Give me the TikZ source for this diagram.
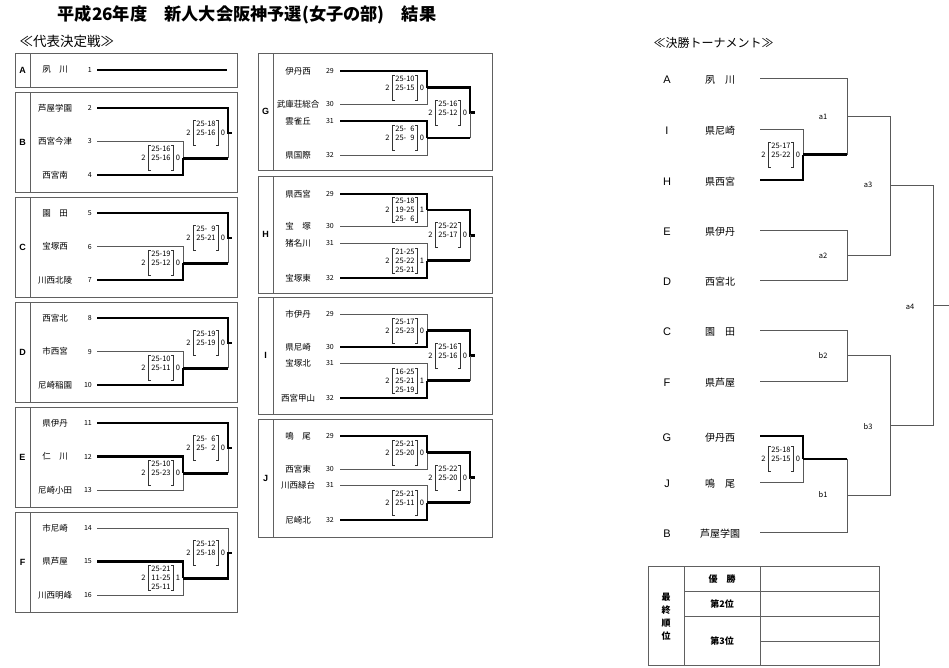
\documentclass[tikz,border=0pt]{standalone}
\usepackage{fontspec}
\setmainfont{Noto Sans CJK JP}
\newfontfamily\latin{Liberation Sans}
\usetikzlibrary{calc}

% score box left of a joint: sets won, sets lost, three set scores
\newcommand\sets[6]{%
  \node[pts] (#1w) at ($(#1)+(-39.5,0)$) {#2};
  \node[pts] (#1l) at ($(#1)+(-5,0)$) {#3};
  \draw[brk] ($(#1)+(-32.5,-12.5)$) -- ++(-2.5,0) -- ++(0,25) -- ++(2.5,0);
  \draw[brk] ($(#1)+(-12,-12.5)$) -- ++(2.5,0) -- ++(0,25) -- ++(-2.5,0);
  \node[pts] (#1a) at ($(#1)+(-22,-9)$) {#4};
  \node[pts] (#1b) at ($(#1)+(-22,0)$) {#5};
  \node[pts] (#1c) at ($(#1)+(-22,9)$) {#6};
}

\begin{document}
\begin{tikzpicture}[x=1pt,y=-1pt,
  win/.style={line width=2.6pt},
  lose/.style={line width=0.8pt, gray!70!black},
  brk/.style={line width=0.6pt, gray!40!black},
  frame/.style={line width=0.8pt, draw=gray!75!black},
  team/.style={font=\fontsize{8.5}{9}\selectfont, inner sep=0pt},
  num/.style={font=\fontsize{7}{8}\selectfont, anchor=east, inner sep=0pt},
  pts/.style={font=\fontsize{7.5}{8}\selectfont, inner sep=0pt},
  grp/.style={font=\latin\bfseries\fontsize{9}{10}\selectfont},
  seed/.style={font=\latin\fontsize{11}{12}\selectfont},
  fteam/.style={font=\fontsize{10}{11}\selectfont},
  rnd/.style={font=\fontsize{7.5}{8}\selectfont},
  rank/.style={font=\bfseries\fontsize{9}{13}\selectfont, align=center}]
\path[use as bounding box, fill=white] (0,0) rectangle (949,667);

\node[font=\bfseries\fontsize{17.2}{19}\selectfont] (title) at (247,15) {平成26年度　新人大会阪神予選(女子の部)　結果};
\node[font=\fontsize{13.5}{15}\selectfont, anchor=west] (sub1) at (16,41) {≪代表決定戦≫};
\node[font=\fontsize{12}{14}\selectfont, anchor=west] (sub2) at (650,43) {≪決勝トーナメント≫};

% group boxes
\foreach \g/\l/\d/\r/\t/\b in {A/15/30/237/53/87, B/15/30/237/92/192, C/15/30/237/197/297,
  D/15/30/237/302/402, E/15/30/237/407/507, F/15/30/237/512/612,
  G/258/273/492/53/170, H/258/273/492/176/293, I/258/273/492/297/414, J/258/273/492/419/537}{
  \draw[frame] (\l,\t) rectangle (\r,\b) (\d,\t) -- (\d,\b);
  \node[grp] (lb\g) at ({(\l+\d)/2},{(\t+\b)/2}) {\g};
}

% teams
\foreach \n/\t/\y in {1/夙　川/70, 2/芦屋学園/108, 3/西宮今津/141.5, 4/西宮南/175,
  5/園　田/213, 6/宝塚西/246.5, 7/川西北陵/280,
  8/西宮北/318, 9/市西宮/351.5, 10/尼崎稲園/385,
  11/県伊丹/423, 12/仁　川/456.5, 13/尼崎小田/490,
  14/市尼崎/528, 15/県芦屋/561.5, 16/川西明峰/595}{
  \node[team] (m\n) at (55,\y) {\t};
  \node[num] (k\n) at (92,\y) {\n};
  \coordinate (t\n) at (97,\y);
}
\foreach \g/\n/\t/\y in {g/29/伊丹西/71, g/30/武庫荘総合/104, g/31/雲雀丘/121, g/32/県国際/155,
  h/29/県西宮/194, h/30/宝　塚/226, h/31/猪名川/243, h/32/宝塚東/278,
  i/29/市伊丹/314, i/30/県尼崎/347, i/31/宝塚北/363, i/32/西宮甲山/398,
  j/29/鳴　尾/436, j/30/西宮東/469, j/31/川西緑台/485, j/32/尼崎北/520}{
  \node[team] (m\g\n) at (298,\y) {\t};
  \node[num] (k\g\n) at (334,\y) {\n};
  \coordinate (\g\n) at (340,\y);
}

% A
\coordinate (aF) at (227,70);
\draw[win] (t1) -- (aF);

% B
\coordinate (b1) at (183,158.25);
\coordinate (bF) at (228,133.1);
\draw[lose] (t3) -| (b1);
\draw[win] (t4) -| (b1);
\draw[win] (b1) -- (b1 -| bF);
\draw[lose] (b1 -| bF) -- (bF);
\draw[win] (t2) -| (bF) -- ++(4,0);
\sets{b1}{2}{0}{25-16}{25-16}{}
\sets{bF}{2}{0}{25-18}{25-16}{}

% C
\coordinate (c1) at (183,263.25);
\coordinate (cF) at (228,238.1);
\draw[lose] (t6) -| (c1);
\draw[win] (t7) -| (c1);
\draw[win] (c1) -- (c1 -| cF);
\draw[lose] (c1 -| cF) -- (cF);
\draw[win] (t5) -| (cF) -- ++(4,0);
\sets{c1}{2}{0}{25-19}{25-12}{}
\sets{cF}{2}{0}{25-\hphantom{0}9}{25-21}{}

% D
\coordinate (d1) at (183,368.25);
\coordinate (dF) at (228,343.1);
\draw[lose] (t9) -| (d1);
\draw[win] (t10) -| (d1);
\draw[win] (d1) -- (d1 -| dF);
\draw[lose] (d1 -| dF) -- (dF);
\draw[win] (t8) -| (dF) -- ++(4,0);
\sets{d1}{2}{0}{25-10}{25-11}{}
\sets{dF}{2}{0}{25-19}{25-19}{}

% E
\coordinate (e1) at (183,473.25);
\coordinate (eF) at (228,448.1);
\draw[win] (t12) -| (e1);
\draw[lose] (t13) -| (e1);
\draw[win] (e1) -- (e1 -| eF);
\draw[lose] (e1 -| eF) -- (eF);
\draw[win] (t11) -| (eF) -- ++(4,0);
\sets{e1}{2}{0}{25-10}{25-23}{}
\sets{eF}{2}{0}{25-\hphantom{0}6}{25-\hphantom{0}2}{}

% F
\coordinate (f1) at (183,578.25);
\coordinate (fF) at (228,553.1);
\draw[win] (t15) -| (f1);
\draw[lose] (t16) -| (f1);
\draw[lose] (t14) -| (fF);
\draw[win] (f1) -| (fF) -- ++(4,0);
\sets{f1}{2}{1}{25-21}{11-25}{25-11}
\sets{fF}{2}{0}{25-12}{25-18}{}

% G
\coordinate (g1) at (427,87.5);
\coordinate (g2) at (427,138);
\coordinate (gF) at (470,112.75);
\draw[win] (g29) -| (g1);
\draw[lose] (g30) -| (g1);
\draw[win] (g31) -| (g2);
\draw[lose] (g32) -| (g2);
\draw[win] (g1) -| (gF) -- ++(5,0);
\draw[win] (g2) -- (g2 -| gF);
\draw[lose] (g2 -| gF) -- (gF);
\sets{g1}{2}{0}{25-10}{25-15}{}
\sets{g2}{2}{0}{25-\hphantom{0}6}{25-\hphantom{0}9}{}
\sets{gF}{2}{0}{25-16}{25-12}{}

% H
\coordinate (h1) at (427,210);
\coordinate (h2) at (427,260.5);
\coordinate (hF) at (470,235.25);
\draw[win] (h29) -| (h1);
\draw[lose] (h30) -| (h1);
\draw[lose] (h31) -| (h2);
\draw[win] (h32) -| (h2);
\draw[win] (h1) -| (hF) -- ++(5,0);
\draw[win] (h2) -- (h2 -| hF);
\draw[lose] (h2 -| hF) -- (hF);
\sets{h1}{2}{1}{25-18}{19-25}{25-\hphantom{0}6}
\sets{h2}{2}{1}{21-25}{25-22}{25-21}
\sets{hF}{2}{0}{25-22}{25-17}{}

% I
\coordinate (i1) at (427,330.5);
\coordinate (i2) at (427,380.5);
\coordinate (iF) at (470,355.5);
\draw[lose] (i29) -| (i1);
\draw[win] (i30) -| (i1);
\draw[lose] (i31) -| (i2);
\draw[win] (i32) -| (i2);
\draw[win] (i1) -| (iF) -- ++(5,0);
\draw[win] (i2) -- (i2 -| iF);
\draw[lose] (i2 -| iF) -- (iF);
\sets{i1}{2}{0}{25-17}{25-23}{}
\sets{i2}{2}{1}{16-25}{25-21}{25-19}
\sets{iF}{2}{0}{25-16}{25-16}{}

% J
\coordinate (j1) at (427,452.5);
\coordinate (j2) at (427,502.5);
\coordinate (jF) at (470,477.5);
\draw[win] (j29) -| (j1);
\draw[lose] (j30) -| (j1);
\draw[lose] (j31) -| (j2);
\draw[win] (j32) -| (j2);
\draw[win] (j1) -| (jF) -- ++(5,0);
\draw[win] (j2) -- (j2 -| jF);
\draw[lose] (j2 -| jF) -- (jF);
\sets{j1}{2}{0}{25-21}{25-20}{}
\sets{j2}{2}{0}{25-21}{25-11}{}
\sets{jF}{2}{0}{25-22}{25-20}{}

% final tournament
\foreach \l/\t/\y in {A/夙　川/78, I/県尼崎/129, H/県西宮/180, E/県伊丹/230, D/西宮北/280,
  C/園　田/330, F/県芦屋/381, G/伊丹西/436, J/鳴　尾/482, B/芦屋学園/532}{
  \node[seed] (s\l) at (667,\y+2) {\l};
  \node[fteam] (f\l) at (720,\y+2) {\t};
  \coordinate (r\l) at (760,\y);
}
\coordinate (ih) at (803,154.5);
\coordinate (gj) at (803,459);
\coordinate (ta1) at (847,116.25);
\coordinate (ta2) at (847,255);
\coordinate (tb2) at (847,355.5);
\coordinate (tb1) at (847,495.5);
\coordinate (ta3) at (890,185.6);
\coordinate (tb3) at (890,425.5);
\coordinate (ta4) at (933,305.6);
\coordinate (out) at (949,305.6);
\draw[lose] (rI) -| (ih);
\draw[win] (rH) -| (ih);
\draw[win] (rG) -| (gj);
\draw[lose] (rJ) -| (gj);
\draw[lose] (rA) -| (ta1);
\draw[win] (ih) -- (ih -| ta1);
\draw[lose] (ih -| ta1) -- (ta1);
\draw[lose] (rE) -| (ta2);
\draw[lose] (rD) -| (ta2);
\draw[lose] (rC) -| (tb2);
\draw[lose] (rF) -| (tb2);
\draw[win] (gj) -- (gj -| tb1);
\draw[lose] (gj -| tb1) -- (tb1);
\draw[lose] (rB) -| (tb1);
\draw[lose] (ta1) -| (ta3);
\draw[lose] (ta2) -| (ta3);
\draw[lose] (tb2) -| (tb3);
\draw[lose] (tb1) -| (tb3);
\draw[lose] (ta3) -| (ta4);
\draw[lose] (tb3) -| (ta4);
\draw[lose] (ta4) -- (out);
\sets{ih}{2}{0}{25-17}{25-22}{}
\sets{gj}{2}{0}{25-18}{25-15}{}
\node[rnd] (la1) at (823,117) {a1};
\node[rnd] (la2) at (823,256) {a2};
\node[rnd] (la3) at (868,185) {a3};
\node[rnd] (la4) at (910,307) {a4};
\node[rnd] (lb2) at (823,356) {b2};
\node[rnd] (lb1) at (823,495) {b1};
\node[rnd] (lb3) at (868,427) {b3};

% final ranking
\draw[frame] (648,566) rectangle (879,665);
\draw[frame] (684,566) -- (684,665) (760,566) -- (760,665)
  (684,591) -- (879,591) (684,616) -- (879,616) (760,641) -- (879,641);
\node[rank] (rk) at (666,617) {最\\終\\順\\位};
\node[rank] (rk1) at (722,579) {優　勝};
\node[rank] (rk2) at (722,604) {第2位};
\node[rank] (rk3) at (722,641) {第3位};
\end{tikzpicture}
\end{document}
